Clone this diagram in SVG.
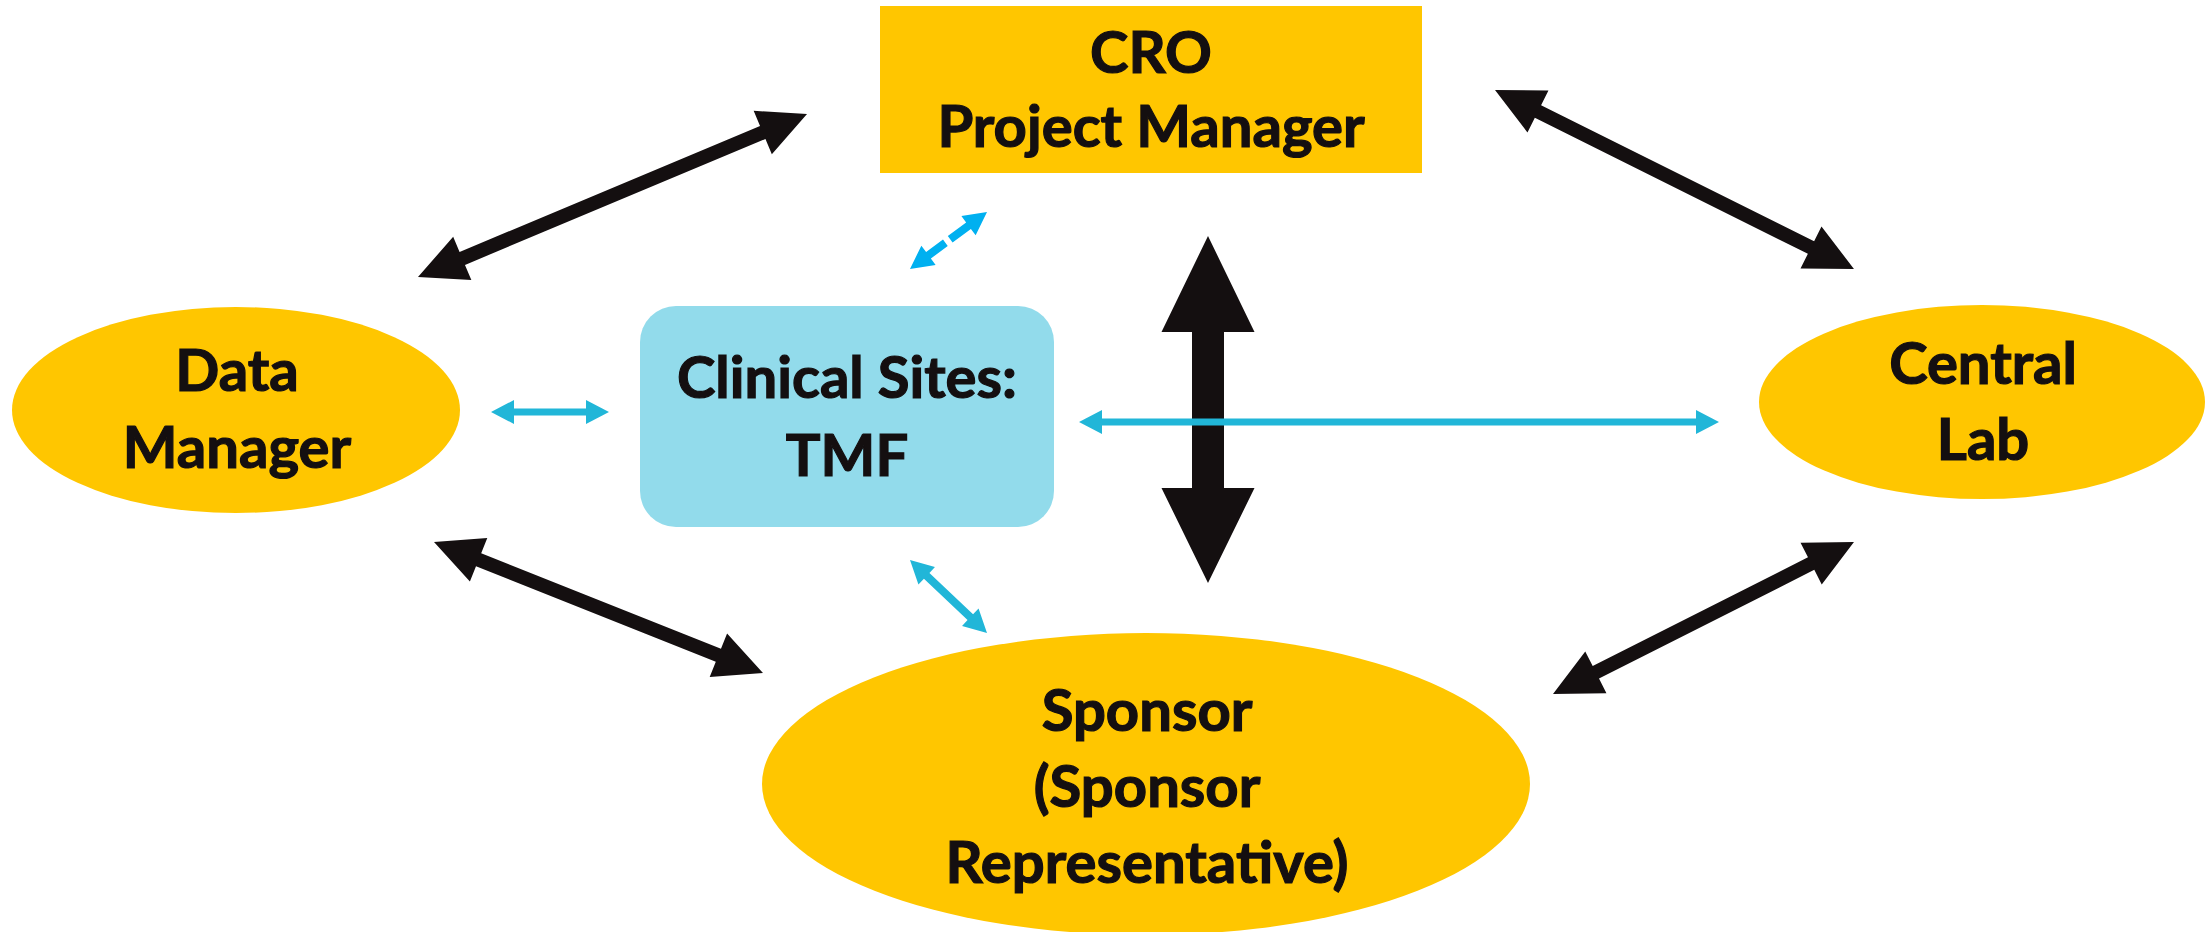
<svg xmlns="http://www.w3.org/2000/svg" width="2207" height="932" viewBox="0 0 2207 932">
  <style>
    .gold { fill: #ffc600; }
    .site { fill: #92dbeb; }
    .label { font-family: "Lato", "Liberation Sans", sans-serif; font-weight: 700; font-size: 58px; fill: #140f10; stroke: #140f10; stroke-width: 1.2px; text-anchor: middle; }
    .dark { fill: #140f10; }
    .cyan { fill: #21b6d8; }
    .sky { fill: #00b0f0; }
  </style>

  <rect width="2207" height="932" fill="#ffffff"/>

  <!-- Nodes -->
  <g id="cro">
    <rect class="gold" x="880" y="6" width="542" height="167"/>
    <text class="label" x="1151" y="73">CRO</text>
    <text class="label" x="1151" y="147">Project Manager</text>
  </g>

  <g id="clinical-sites">
    <rect class="site" x="640" y="306" width="414" height="221" rx="36" ry="36"/>
    <text class="label" x="847" y="398">Clinical Sites:</text>
    <text class="label" x="847" y="476">TMF</text>
  </g>

  <g id="data-manager">
    <ellipse class="gold" cx="236" cy="410" rx="224" ry="103"/>
    <text class="label" x="237" y="391">Data</text>
    <text class="label" x="237" y="468">Manager</text>
  </g>

  <g id="central-lab">
    <ellipse class="gold" cx="1982" cy="402" rx="223" ry="97"/>
    <text class="label" x="1983" y="384">Central</text>
    <text class="label" x="1983" y="460">Lab</text>
  </g>

  <g id="sponsor">
    <ellipse class="gold" cx="1146" cy="784" rx="384" ry="151"/>
    <text class="label" x="1147" y="731">Sponsor</text>
    <text class="label" x="1147" y="807">(Sponsor</text>
    <text class="label" x="1147" y="883">Representative)</text>
  </g>

  <!-- Connectors: each double arrow is laid out along the x axis from tip to tip, then placed -->
  <g id="connectors">
    <!-- Data Manager <-> CRO -->
    <polygon class="dark" transform="translate(418,277) rotate(-22.74)"
      points="0,0 48,-23.5 48,-7 373.8,-7 373.8,-23.5 421.8,0 373.8,23.5 373.8,7 48,7 48,23.5"/>
    <!-- CRO <-> Central Lab -->
    <polygon class="dark" transform="translate(1495,90) rotate(26.5)"
      points="0,0 48,-23.5 48,-7 353.1,-7 353.1,-23.5 401.1,0 353.1,23.5 353.1,7 48,7 48,23.5"/>
    <!-- Data Manager <-> Sponsor -->
    <polygon class="dark" transform="translate(434,542) rotate(21.71)"
      points="0,0 48,-23.5 48,-7 306.1,-7 306.1,-23.5 354.1,0 306.1,23.5 306.1,7 48,7 48,23.5"/>
    <!-- Sponsor <-> Central Lab -->
    <polygon class="dark" transform="translate(1553,694) rotate(-26.8)"
      points="0,0 48,-23.5 48,-7 289.2,-7 289.2,-23.5 337.2,0 289.2,23.5 289.2,7 48,7 48,23.5"/>
    <!-- CRO <-> Sponsor (wide vertical) -->
    <polygon class="dark"
      points="1208,236 1254.5,332 1224,332 1224,488 1254.5,488 1208,583 1161.5,488 1192,488 1192,332 1161.5,332"/>

    <!-- Clinical Sites <-> Central Lab -->
    <polygon class="cyan" transform="translate(1079,422)"
      points="0,0 23,-12 23,-3.5 617,-3.5 617,-12 640,0 617,12 617,3.5 23,3.5 23,12"/>
    <!-- Data Manager <-> Clinical Sites -->
    <polygon class="cyan" transform="translate(491,412)"
      points="0,0 23,-12 23,-3.5 95,-3.5 95,-12 118,0 95,12 95,3.5 23,3.5 23,12"/>
    <!-- Clinical Sites <-> Sponsor -->
    <polygon class="cyan" transform="translate(910,560) rotate(43.47)"
      points="0,0 23,-12 23,-4 83.1,-4 83.1,-12 106.1,0 83.1,12 83.1,4 23,4 23,12"/>
    <!-- Clinical Sites <-> CRO (broken shaft) -->
    <g transform="translate(910,269) rotate(-36.5)">
      <polygon class="sky" points="0,0 23,-12 23,-4 44,-4 44,4 23,4 23,12"/>
      <polygon class="sky" points="50,-4 72.8,-4 72.8,-12 95.8,0 72.8,12 72.8,4 50,4"/>
    </g>
  </g>
</svg>
